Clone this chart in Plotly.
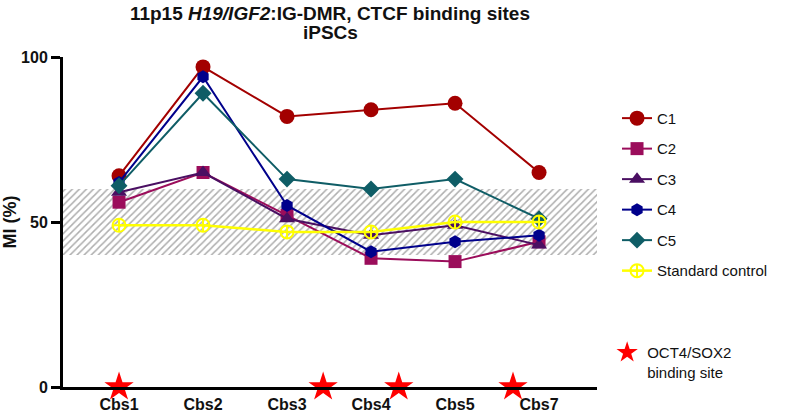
import plotly.graph_objects as go

categories = ["Cbs1", "Cbs2", "Cbs3", "Cbs4", "Cbs5", "Cbs7"]
c1 = [64, 97, 82, 84, 86, 65]
c2 = [56, 65, 52, 39, 38, 44]
c3 = [59, 65, 51, 46, 49, 43]
c4 = [62, 94, 55, 41, 44, 46]
c5 = [61, 89, 63, 60, 63, 51]
std_control = [49, 49, 47, 47, 50, 50]
normal_range = [40, 60]
oct4_sites = [0, 2.43, 3.33, 4.69]

xpos = list(range(len(categories)))
XMIN, XMAX = -0.667, 5.69
FONT = "Arial, Liberation Sans, sans-serif"

fig = go.Figure()

# hatched normal range band
fig.add_trace(go.Scatter(
    x=[XMIN, XMAX, XMAX, XMIN, XMIN],
    y=[normal_range[0], normal_range[0], normal_range[1], normal_range[1], normal_range[0]],
    mode="lines", line=dict(width=0), fill="toself",
    fillcolor="rgba(0,0,0,0)",
    fillpattern=dict(shape="/", fgcolor="#5e5e5e", bgcolor="white", size=5, solidity=0.3),
    hoverinfo="skip", showlegend=False))

series = [
    ("C1", c1, "#A30000", "circle", 15),
    ("C2", c2, "#9B0D5B", "square", 13),
    ("C3", c3, "#4A0F62", "triangle-up", 14),
    ("C4", c4, "#00008B", "hexagon", 13),
    ("C5", c5, "#0F5D66", "diamond", 13),
]
for name, vals, col, sym, sz in series:
    fig.add_trace(go.Scatter(
        x=xpos, y=vals, name=name, mode="lines+markers",
        line=dict(color=col, width=2),
        marker=dict(symbol=sym, size=sz, color=col),
        legendgroup=name, cliponaxis=False))

fig.add_trace(go.Scatter(
    x=xpos, y=std_control, name="Standard control", mode="lines+markers",
    line=dict(color="#FFFF00", width=2.5),
    marker=dict(symbol="circle-cross-open", size=13, color="#FFFF00", line=dict(width=2)),
    legendgroup="std", cliponaxis=False))

fig.add_trace(go.Scatter(
    x=oct4_sites, y=[0] * len(oct4_sites), name="OCT4/SOX2<br>binding site",
    mode="markers", marker=dict(symbol="star", size=22, color="#FF0000", line=dict(width=0)),
    legend="legend2", cliponaxis=False))

fig.update_layout(
    width=797, height=417,
    margin=dict(l=63, r=200, t=57, b=30, autoexpand=False),
    paper_bgcolor="white", plot_bgcolor="white",
    font=dict(family=FONT, color="#111111"),
    title=dict(
        text="<b>11p15 <i>H19/IGF2</i>:IG-DMR, CTCF binding sites</b>",
        x=0.414, xanchor="center", yref="container", y=1 - 13 / 417, yanchor="middle",
        font=dict(size=19, family=FONT, color="#111111")),
    annotations=[dict(
        text="<b>iPSCs</b>", xref="paper", yref="paper",
        x=(330 - 63) / 534, y=1 + (57 - 32) / 330, xanchor="center", yanchor="middle",
        showarrow=False, font=dict(size=19, family=FONT, color="#111111"))],
    legend=dict(x=1.0375, xanchor="left", y=0.864, yanchor="top",
                font=dict(size=15, family=FONT, color="#111111"),
                tracegroupgap=8, bgcolor="rgba(0,0,0,0)", itemwidth=30),
    legend2=dict(x=1.019, xanchor="left", y=0.075, yanchor="middle", valign="top",
                 font=dict(size=15, family=FONT, color="#111111"),
                 bgcolor="rgba(0,0,0,0)", itemwidth=30),
    showlegend=True,
)

fig.update_xaxes(
    range=[XMIN, XMAX], tickvals=xpos,
    ticktext=["<b>%s</b>" % c for c in categories],
    showline=True, linecolor="black", linewidth=3,
    ticks="", showgrid=False, zeroline=False, automargin=False,
    tickfont=dict(size=16, family=FONT, color="#111111"),
    ticklabelstandoff=1)

fig.update_yaxes(
    range=[0, 100], tickvals=[0, 50, 100],
    ticktext=["<b>0</b>", "<b>50</b>", "<b>100</b>"],
    showline=True, linecolor="black", linewidth=3,
    ticks="outside", ticklen=9, tickwidth=3, tickcolor="black",
    showgrid=False, zeroline=False, automargin=False,
    tickfont=dict(size=16, family=FONT, color="#111111"),
    title=dict(text="<b>MI (%)</b>", font=dict(size=18, family=FONT, color="#111111"), standoff=2))

fig.write_html("out.html", config={"displayModeBar": False},
               post_script="document.body.style.margin='0px';")
